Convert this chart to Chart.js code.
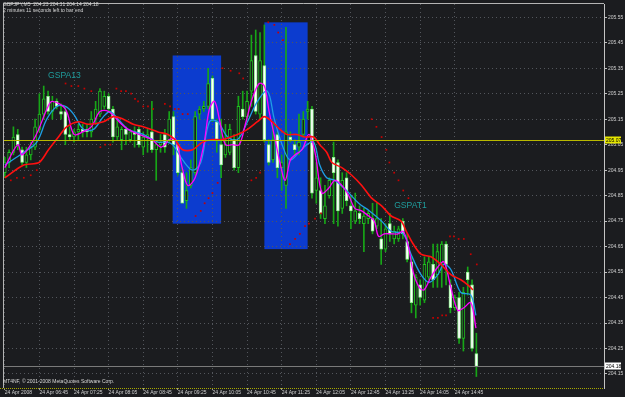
<!DOCTYPE html>
<html lang="en">
<head>
<meta charset="UTF-8">
<title>GBPJPY,M5</title>
<script src="https://cdn.jsdelivr.net/npm/chart.js"></script>
<style>
    body { margin: 0; background: #1b1c1f; }
    canvas { display: block; }
</style>
</head>
<body>
<canvas id="gbpjpyChart" width="625" height="397"></canvas>
<script>
// time axis labels, one every 8 bars
const timeLabels = ['24 Apr 2008', '24 Apr 06:45', '24 Apr 07:25', '24 Apr 08:05', '24 Apr 08:45',
    '24 Apr 09:25', '24 Apr 10:05', '24 Apr 10:45', '24 Apr 11:25', '24 Apr 12:05',
    '24 Apr 12:45', '24 Apr 13:25', '24 Apr 14:05', '24 Apr 14:45'];
const priceTicks = [205.55, 205.45, 205.35, 205.25, 205.15, 205.05, 204.95, 204.85,
    204.75, 204.65, 204.55, 204.45, 204.35, 204.25, 204.15];

// candles (M5)
const opens = [
    204.94, 204.98, 205.02, 205.09, 205.03, 204.98, 205.01, 205.04, 205.11, 205.17,
    205.24, 205.18, 205.22, 205.18, 205.18, 205.09, 205.08, 205.10, 205.11, 205.11,
    205.10, 205.15, 205.17, 205.20, 205.24, 205.19, 205.08, 205.07, 205.11, 205.07,
    205.10, 205.11, 205.04, 205.08, 205.10, 205.03, 205.05, 205.09, 205.07, 205.16,
    205.05, 204.94, 204.83, 204.89, 204.94, 205.17, 205.19, 205.20, 205.31, 205.14,
    205.05, 205.01, 205.02, 205.07, 204.96, 205.19, 205.16, 205.26, 205.40, 205.17,
    205.36, 205.05, 204.99, 205.09, 204.96, 204.89, 205.08, 205.05, 205.04, 205.09,
    205.18, 205.19, 204.87, 204.87, 204.76, 204.85, 205.00, 204.98, 204.80, 204.92,
    204.81, 204.75, 204.78, 204.74, 204.76, 204.76, 204.73, 204.68, 204.64, 204.74,
    204.68, 204.68, 204.75, 204.67, 204.59, 204.42, 204.50, 204.44, 204.53, 204.58,
    204.54, 204.58, 204.66, 204.50, 204.41, 204.45, 204.29, 204.55, 204.50, 204.23];
const highs = [
    205.00, 205.03, 205.12, 205.11, 205.04, 205.04, 205.06, 205.15, 205.25, 205.28,
    205.26, 205.24, 205.23, 205.21, 205.20, 205.12, 205.11, 205.13, 205.13, 205.13,
    205.18, 205.22, 205.27, 205.26, 205.25, 205.20, 205.15, 205.12, 205.12, 205.11,
    205.12, 205.12, 205.10, 205.11, 205.22, 205.06, 205.09, 205.11, 205.18, 205.18,
    205.06, 204.96, 204.94, 204.99, 205.18, 205.20, 205.22, 205.35, 205.32, 205.15,
    205.15, 205.13, 205.13, 205.09, 205.24, 205.26, 205.26, 205.48, 205.50, 205.49,
    205.52, 205.07, 205.13, 205.10, 205.01, 205.51, 205.10, 205.07, 205.17, 205.18,
    205.22, 205.20, 204.98, 204.92, 204.89, 204.92, 205.06, 204.99, 204.94, 204.94,
    204.85, 204.86, 204.81, 204.80, 204.79, 204.82, 204.82, 204.76, 204.74, 204.78,
    204.73, 204.73, 204.76, 204.70, 204.61, 204.54, 204.52, 204.61, 204.61, 204.66,
    204.66, 204.67, 204.67, 204.52, 204.46, 204.47, 204.49, 204.57, 204.52, 204.31];
const lows = [
    204.92, 204.96, 205.01, 205.03, 204.97, 204.96, 204.99, 205.03, 205.10, 205.15,
    205.17, 205.15, 205.19, 205.15, 205.05, 205.07, 205.06, 205.07, 205.08, 205.08,
    205.08, 205.13, 205.16, 205.19, 205.18, 205.06, 205.07, 205.03, 205.05, 205.06,
    205.04, 205.04, 205.01, 205.02, 205.02, 204.91, 205.02, 205.02, 205.06, 205.01,
    204.93, 204.82, 204.80, 204.88, 204.93, 205.15, 205.18, 205.19, 205.14, 205.02,
    204.92, 205.00, 205.01, 204.95, 204.94, 205.15, 205.14, 205.20, 205.17, 205.15,
    205.06, 204.97, 204.98, 204.92, 204.87, 204.80, 205.06, 205.01, 205.01, 205.08,
    205.15, 204.84, 204.82, 204.76, 204.74, 204.84, 204.74, 204.73, 204.78, 204.81,
    204.72, 204.74, 204.74, 204.63, 204.74, 204.70, 204.72, 204.58, 204.63, 204.67,
    204.66, 204.67, 204.68, 204.59, 204.39, 204.37, 204.42, 204.43, 204.52, 204.49,
    204.49, 204.49, 204.50, 204.39, 204.40, 204.27, 204.24, 204.46, 204.24, 204.14];
const closes = [
    204.98, 205.02, 205.08, 205.05, 204.98, 205.01, 205.04, 205.12, 205.17, 205.23,
    205.18, 205.22, 205.20, 205.17, 205.09, 205.08, 205.10, 205.11, 205.10, 205.10,
    205.15, 205.19, 205.26, 205.24, 205.19, 205.08, 205.12, 205.11, 205.09, 205.10,
    205.09, 205.05, 205.08, 205.09, 205.03, 205.05, 205.06, 205.04, 205.15, 205.05,
    204.94, 204.82, 204.87, 204.96, 205.16, 205.19, 205.20, 205.29, 205.15, 205.07,
    204.97, 205.05, 205.11, 204.96, 205.20, 205.16, 205.22, 205.38, 205.18, 205.38,
    205.07, 204.98, 205.07, 204.96, 204.98, 205.10, 205.07, 205.03, 205.06, 205.15,
    205.19, 204.86, 204.92, 204.78, 204.81, 204.91, 204.94, 204.79, 204.91, 204.83,
    204.79, 204.79, 204.76, 204.77, 204.78, 204.71, 204.76, 204.64, 204.72, 204.70,
    204.71, 204.72, 204.70, 204.60, 204.43, 204.53, 204.45, 204.58, 204.59, 204.52,
    204.63, 204.66, 204.58, 204.41, 204.45, 204.29, 204.47, 204.52, 204.25, 204.18];

// moving averages (bar position, price)
const fastBars = [0, 3, 4, 7, 10, 11, 14, 16, 18, 20, 22, 24, 27, 28.5, 31, 34, 36, 37, 38, 39.5,
    41, 42.3, 44, 46, 47.3, 48.5, 49.6, 51, 52.6, 54.2, 55.6, 57.2, 58.8, 60, 61.1, 62.5, 63.6, 64.8, 66, 67.1,
    68.7, 70.3, 71.7, 73.3, 74.9, 76.3, 77.9, 79.5, 80.9, 82.5, 84.1, 85.4, 86.4, 87.7, 89.3, 90.9, 92.1, 93.3, 94.4, 95.8,
    96.9, 98.5, 100.1, 101.5, 103.1, 104.7, 106.1, 107.7, 108.9];
const fastVals = [204.96, 205.05, 205.01, 205.08, 205.20, 205.22, 205.19, 205.09, 205.10, 205.12,
    205.18, 205.18, 205.13, 205.11, 205.09, 205.07, 205.04, 205.05, 205.07, 205.07,
    204.96, 204.89, 204.92, 205.05, 205.19, 205.22, 205.15, 205.05, 205.05, 205.05,
    205.13, 205.23, 205.29, 205.28, 205.18, 205.07, 204.98, 204.91, 204.99, 205.01,
    205.03, 205.09, 205.02, 204.86, 204.88, 204.91, 204.89, 204.85, 204.80, 204.79,
    204.77, 204.75, 204.69, 204.70, 204.70, 204.70, 204.71, 204.65, 204.55, 204.49,
    204.48, 204.53, 204.57, 204.59, 204.49, 204.40, 204.41, 204.43, 204.33];
const midBars = [0, 4.4, 7.4, 9.7, 12, 14, 15.9, 18.2, 20.5, 22.8, 24.4, 26.2, 28.5, 32, 35.4, 37.2, 38.8, 41.1, 43.4, 45.3,
    47.3, 49.2, 51.5, 53.8, 56.1, 58.4, 60.7, 62.3, 64.1, 65.9, 68, 69.8, 71.4, 72.8, 74.4, 76.3, 79, 81.8, 84.3, 87.1,
    89.3, 92.1, 93.9, 96.2, 98.1, 100.1, 101.5, 103.1, 105.4, 107.7, 108.9];
const midVals = [204.97, 205.02, 205.06, 205.15, 205.20, 205.20, 205.17, 205.11, 205.11, 205.16,
    205.18, 205.15, 205.11, 205.09, 205.06, 205.06, 205.05, 204.99, 204.95, 204.98,
    205.14, 205.14, 205.08, 205.07, 205.14, 205.22, 205.26, 205.15, 205.05, 204.99,
    205.02, 205.05, 205.06, 204.97, 204.92, 204.91, 204.87, 204.82, 204.79, 204.75,
    204.71, 204.70, 204.62, 204.54, 204.51, 204.54, 204.58, 204.56, 204.47, 204.46, 204.38];
const slowBars = [0, 4.4, 7.9, 10.1, 12.4, 14.3, 17, 19.3, 22.8, 25.1, 27.4, 29.7, 32, 35.4, 37.7, 39.3, 41.1, 43.4, 45.7, 48,
    50.3, 53.8, 56.1, 58.4, 60, 61.8, 63.6, 65.2, 67.5, 69.4, 71.4, 72.8, 74.4, 75.6, 77.9, 80.2, 82.5, 84.8, 87.1, 89.3,
    91.6, 92.8, 94.4, 96.2, 98.5, 100.8, 103.1, 105.4, 107, 108.2];
const slowVals = [204.92, 204.97, 204.98, 205.03, 205.08, 205.12, 205.14, 205.13, 205.14, 205.16,
    205.15, 205.13, 205.12, 205.10, 205.09, 205.07, 205.03, 205.03, 205.06, 205.07,
    205.07, 205.09, 205.11, 205.14, 205.16, 205.14, 205.11, 205.09, 205.09, 205.08,
    205.08, 205.05, 205.02, 204.98, 204.96, 204.93, 204.89, 204.84, 204.81, 204.77,
    204.75, 204.71, 204.66, 204.62, 204.61, 204.58, 204.54, 204.52, 204.50, 204.48];

// red dotted envelope, only where it shows
const upperDotBars = [14.05, 15.4, 17, 18.4, 20, 25.8, 26.9, 28, 29.2, 30.1, 30.8, 32, 33.1, 34.3, 37, 38.2, 39.3, 40.2, 41.1, 42.3,
    50.3, 52.2, 54.2, 55.1, 60.9, 62.3, 63.2, 64.3, 84.8, 85.9, 87.1, 88.2, 88.9, 90, 91, 92.1, 93.3, 102.9, 103.8, 104.9,
    106.1, 107.7, 109.1];
const upperDotVals = [205.29, 205.28, 205.28, 205.27, 205.26, 205.27, 205.26, 205.26, 205.25, 205.23,
    205.22, 205.20, 205.20, 205.19, 205.21, 205.20, 205.19, 205.19, 205.17, 205.17,
    205.35, 205.34, 205.33, 205.31, 205.53, 205.52, 205.49, 205.46, 205.15, 205.12,
    205.08, 205.03, 204.98, 204.94, 204.91, 204.87, 204.84, 204.69, 204.69, 204.68,
    204.68, 204.62, 204.58];
const lowerDotBars = [1.4, 2.8, 4.4, 6, 7.4, 22.1, 23.2, 24.4, 44.1, 45.3, 46.2, 47.1, 48, 49.2, 57, 58.1, 59, 65.9, 67.1, 68.2,
    69.4, 70.3, 71.7, 73.1, 99, 100.1, 101.1, 102];
const lowerDotVals = [204.91, 204.92, 204.92, 204.93, 204.95, 205.04, 205.05, 205.05, 204.77, 204.79,
    204.82, 204.84, 204.86, 204.90, 204.91, 204.92, 204.94, 204.66, 204.68, 204.70,
    204.73, 204.74, 204.76, 204.78, 204.37, 204.37, 204.38, 204.38];

// blue rectangles drawn on the chart
const boxFrom = [38.8, 60];
const boxTo = [50, 70];
const boxTop = [205.40, 205.53];
const boxBottom = [204.74, 204.64];

// text objects
const objText = ['GSPA13', 'GSPAT1'];
const objBar = [10, 90];
const objPrice = [205.31, 204.80];

const askLine = 205.07;
const bidLine = 204.18;

const BG = '#1b1c1f';
const FONT = 'Liberation Sans, Arial, sans-serif';

const toPoints = (xs, ys) => xs.map((x, k) => ({ x: x, y: ys[k] }));

const mt4Plugin = {
    id: 'mt4',
    beforeDraw(chart) {
        const ctx = chart.ctx;
        const xs = chart.scales.x, ys = chart.scales.y;
        ctx.save();
        ctx.fillStyle = BG;
        ctx.fillRect(0, 0, chart.width, chart.height);
        ctx.fillStyle = '#0c3ccf';
        for (let k = 0; k < boxFrom.length; k++) {
            const x0 = xs.getPixelForValue(boxFrom[k]);
            const x1 = xs.getPixelForValue(boxTo[k]);
            const y0 = ys.getPixelForValue(boxTop[k]);
            const y1 = ys.getPixelForValue(boxBottom[k]);
            ctx.fillRect(x0, y0, x1 - x0, y1 - y0);
        }
        ctx.restore();
    },
    afterDatasetsDraw(chart) {
        const ctx = chart.ctx;
        const area = chart.chartArea;
        const xs = chart.scales.x, ys = chart.scales.y;
        ctx.save();
        // ask / bid lines
        let y = Math.round(ys.getPixelForValue(askLine)) + 0.5;
        ctx.strokeStyle = '#b9b900';
        ctx.lineWidth = 1;
        ctx.beginPath(); ctx.moveTo(area.left, y); ctx.lineTo(area.right, y); ctx.stroke();
        y = Math.round(ys.getPixelForValue(bidLine)) + 0.5;
        ctx.strokeStyle = '#7a7a7a';
        ctx.beginPath(); ctx.moveTo(area.left, y); ctx.lineTo(area.right, y); ctx.stroke();
        // text objects
        ctx.fillStyle = '#1f9c9c';
        ctx.font = '8.6px ' + FONT;
        ctx.textBaseline = 'alphabetic';
        for (let k = 0; k < objText.length; k++) {
            ctx.fillText(objText[k], xs.getPixelForValue(objBar[k]), ys.getPixelForValue(objPrice[k]));
        }
        ctx.restore();
    },
    afterDraw(chart) {
        const ctx = chart.ctx;
        const area = chart.chartArea;
        const ys = chart.scales.y;
        ctx.save();
        // frame
        ctx.strokeStyle = '#b4b4b4';
        ctx.lineWidth = 1;
        ctx.beginPath();
        ctx.moveTo(area.left - 0.5, area.bottom); ctx.lineTo(area.left - 0.5, area.top - 0.5);
        ctx.lineTo(area.right, area.top - 0.5);
        ctx.stroke();
        ctx.strokeStyle = '#a8a800';
        ctx.setLineDash([1, 1]);
        ctx.beginPath();
        ctx.moveTo(0, area.bottom + 0.5); ctx.lineTo(area.right, area.bottom + 0.5);
        ctx.stroke();
        ctx.setLineDash([]);
        // price tags
        ctx.font = '5px ' + FONT;
        ctx.textBaseline = 'middle';
        const tags = [[askLine, '#e6e600'], [bidLine, '#ffffff']];
        tags.forEach(([p, col]) => {
            const yy = Math.round(ys.getPixelForValue(p));
            ctx.fillStyle = col;
            ctx.fillRect(area.right + 1, yy - 3.5, 16, 7);
            ctx.fillStyle = '#000000';
            ctx.fillText(p.toFixed(2), area.right + 2, yy + 0.5);
        });
        // header and footer
        ctx.fillStyle = '#d6d6d6';
        ctx.fillText('GBPJPY,M5  204.23 204.31 204.14 204.18', 3, 5);
        ctx.fillText('2 minutes 11 seconds left to bar end', 3, 11);
        ctx.fillText('MT4NF, \u00a9 2001-2008 MetaQuotes Software Corp.', 3, area.bottom - 6);
        ctx.restore();
    }
};

const isBear = closes.map((c, i) => c < opens[i]);

new Chart(document.getElementById('gbpjpyChart'), {
    type: 'bar',
    data: {
        datasets: [
            {
                type: 'line', label: 'slow', data: toPoints(slowBars, slowVals),
                borderColor: '#ff1010', borderWidth: 1.6, pointRadius: 0, tension: 0.3
            },
            {
                type: 'line', label: 'fast', data: toPoints(fastBars, fastVals),
                borderColor: '#ff00ff', borderWidth: 1.3, pointRadius: 0, tension: 0.35
            },
            {
                type: 'line', label: 'mid', data: toPoints(midBars, midVals),
                borderColor: '#1e9ee6', borderWidth: 1.3, pointRadius: 0, tension: 0.35
            },
            {
                type: 'line', label: 'upper', data: toPoints(upperDotBars, upperDotVals), showLine: false,
                pointStyle: 'rect', pointRadius: 1.2, pointBorderWidth: 0, pointBackgroundColor: '#c80000'
            },
            {
                type: 'line', label: 'lower', data: toPoints(lowerDotBars, lowerDotVals), showLine: false,
                pointStyle: 'rect', pointRadius: 1.2, pointBorderWidth: 0, pointBackgroundColor: '#c80000'
            },
            {
                label: 'bodies',
                data: opens.map((o, i) => ({ x: i, y: [o, closes[i]] })),
                backgroundColor: isBear.map(b => b ? '#ffffff' : BG),
                borderColor: isBear.map(b => b ? '#8cf08c' : '#1fc01f'),
                borderWidth: 1, borderSkipped: false,
                barThickness: 3, minBarLength: 1, grouped: false
            },
            {
                label: 'wicks',
                data: lows.map((l, i) => ({ x: i, y: [l, highs[i]] })),
                backgroundColor: '#17a617', borderWidth: 0,
                barThickness: 1, grouped: false
            }
        ]
    },
    options: {
        responsive: false,
        animation: false,
        events: [],
        layout: { padding: { top: 1, left: 1, right: 0, bottom: 0 } },
        plugins: { legend: { display: false }, tooltip: { enabled: false } },
        scales: {
            x: {
                type: 'linear', min: -0.18, max: 138.5, offset: false,
                afterBuildTicks: s => { s.ticks = timeLabels.map((t, k) => ({ value: k * 8 })); },
                afterFit: s => { s.height = 9; },
                grid: { offset: false, color: '#53565c', drawTicks: true, tickLength: 2, tickColor: '#9a9a9a', tickBorderDash: [] },
                border: { display: false, dash: [1, 3] },
                ticks: {
                    align: 'start', maxRotation: 0, autoSkip: false, padding: 0,
                    color: '#cfcfcf', font: { family: FONT, size: 5 },
                    callback: v => timeLabels[Math.round(v / 8)]
                }
            },
            y: {
                type: 'linear', position: 'right', min: 204.095, max: 205.602,
                afterBuildTicks: s => { s.ticks = priceTicks.map(v => ({ value: v })); },
                afterFit: s => { s.width = 21; },
                grid: { color: '#53565c', drawTicks: true, tickLength: 3, tickColor: '#c0c0c0', tickBorderDash: [] },
                border: { display: true, color: '#c4c4c4', width: 1, dash: [1, 3] },
                ticks: {
                    padding: 1, color: '#cfcfcf', font: { family: FONT, size: 5 },
                    callback: v => v.toFixed(2)
                }
            }
        }
    },
    plugins: [mt4Plugin]
});
</script>
</body>
</html>
